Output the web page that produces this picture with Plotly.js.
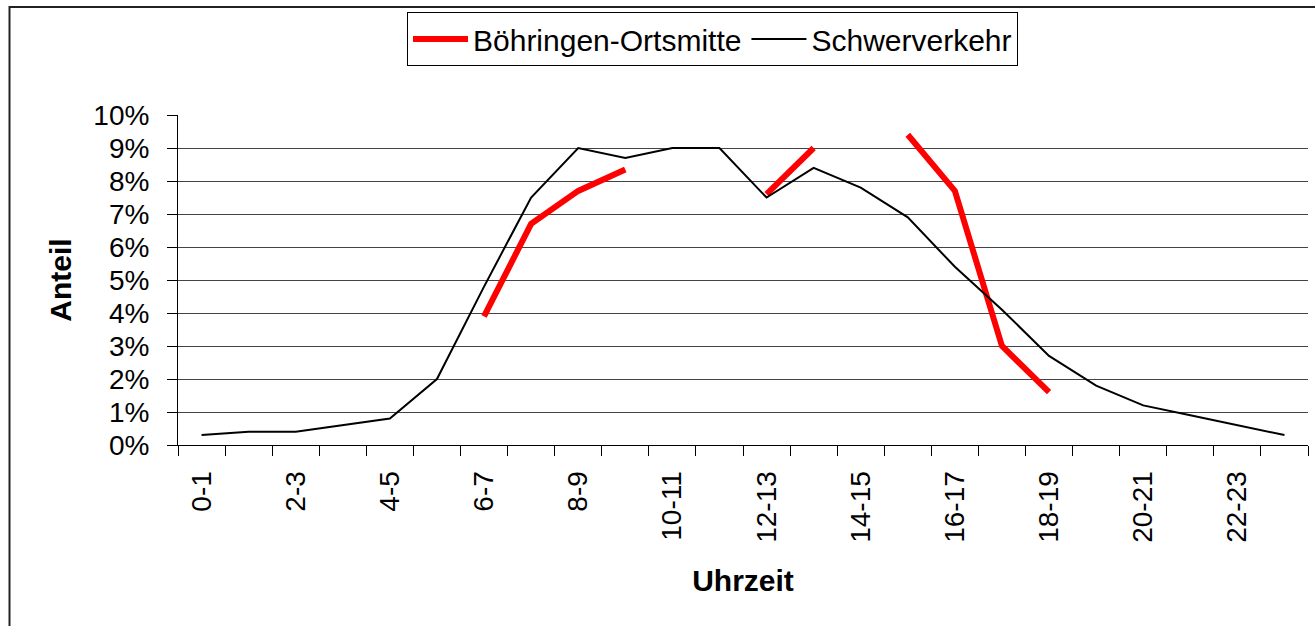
<!DOCTYPE html>
<html>
<head>
<meta charset="utf-8">
<script src="https://cdn.plot.ly/plotly-3.0.1.min.js"></script>
<style>
  html, body { margin: 0; padding: 0; background: #fff; }
  #chart { width: 1315px; height: 626px; }
</style>
</head>
<body>
<div id="chart"></div>
<script>
// Hour-of-day categories
const hours = ['0-1','1-2','2-3','3-4','4-5','5-6','6-7','7-8','8-9','9-10','10-11','11-12',
               '12-13','13-14','14-15','15-16','16-17','17-18','18-19','19-20','20-21','21-22','22-23','23-24'];
// Tick labels shown on the axis (every other category)
const tickLabels = ['0-1','','2-3','','4-5','','6-7','','8-9','','10-11','',
                    '12-13','','14-15','','16-17','','18-19','','20-21','','22-23',''];
// Share of traffic per hour (fraction)
const boehringen = [null,null,null,null,null,null,0.039,0.067,0.077,0.0835,null,null,
                    0.076,0.090,null,0.094,0.077,0.030,0.016,null,null,null,null,null];
const schwerverkehr = [0.003,0.004,0.004,0.006,0.008,0.020,0.048,0.075,0.090,0.087,0.090,0.090,
                       0.075,0.084,0.078,0.069,0.054,0.041,0.027,0.018,0.012,0.009,0.006,0.003];

const FONT = '"Liberation Sans", Arial, Helvetica, sans-serif';

const traces = [
  {
    x: hours, y: boehringen, type: 'scatter', mode: 'lines',
    name: 'Böhringen-Ortsmitte', connectgaps: false,
    line: { color: '#FF0000', width: 6 }
  },
  {
    x: hours, y: schwerverkehr, type: 'scatter', mode: 'lines',
    name: 'Schwerverkehr',
    line: { color: '#000000', width: 2 }
  }
];

const L = 178, R = 1308, T = 115, B = 445, W = 1315, H = 626;
const px2x = v => (v - L) / (R - L);
const px2y = v => (B - v) / (B - T);

const layout = {
  width: W, height: H,
  margin: { l: L, r: W - R, t: T, b: H - B },
  paper_bgcolor: '#ffffff', plot_bgcolor: '#ffffff',
  font: { family: FONT, color: '#000', size: 28 },
  showlegend: true,
  legend: {
    orientation: 'h',
    x: px2x(712.5), xanchor: 'center',
    y: px2y(12), yanchor: 'top',
    bgcolor: '#ffffff', bordercolor: '#000', borderwidth: 1,
    font: { family: FONT, size: 30, color: '#000' },
    itemwidth: 55,
    traceorder: 'normal'
  },
  xaxis: {
    type: 'category',
    categoryorder: 'array', categoryarray: hours,
    range: [-0.5, 23.5],
    tickmode: 'array', tickvals: hours, ticktext: tickLabels,
    tickson: 'boundaries',
    ticks: 'outside', ticklen: 10, tickwidth: 1, tickcolor: '#000',
    tickangle: -90,
    ticklabelstandoff: 14,
    tickfont: { family: FONT, size: 28, color: '#000' },
    showline: true, linecolor: '#000', linewidth: 1,
    showgrid: false, zeroline: false,
    title: { text: '<b>Uhrzeit</b>', font: { family: FONT, size: 30, color: '#000' }, standoff: 28 }
  },
  yaxis: {
    range: [0, 0.10],
    tickmode: 'linear', tick0: 0, dtick: 0.01,
    tickformat: '.0%',
    ticks: 'outside', ticklen: 10, tickwidth: 1, tickcolor: '#000',
    ticklabelstandoff: 12,
    tickfont: { family: FONT, size: 28, color: '#000' },
    showline: true, linecolor: '#000', linewidth: 1,
    showgrid: true, gridcolor: '#444', gridwidth: 1,
    zeroline: false,
    title: { text: '<b>Anteil</b>', font: { family: FONT, size: 30, color: '#000' }, standoff: 12 }
  },
  shapes: [
    {
      type: 'rect', xref: 'paper', yref: 'paper', layer: 'below',
      x0: px2x(9.5), x1: px2x(1325), y0: px2y(640), y1: px2y(7),
      line: { color: '#222', width: 2 }, fillcolor: 'rgba(0,0,0,0)'
    }
  ]
};

Plotly.newPlot('chart', traces, layout, { displayModeBar: false, staticPlot: true });
</script>
</body>
</html>
